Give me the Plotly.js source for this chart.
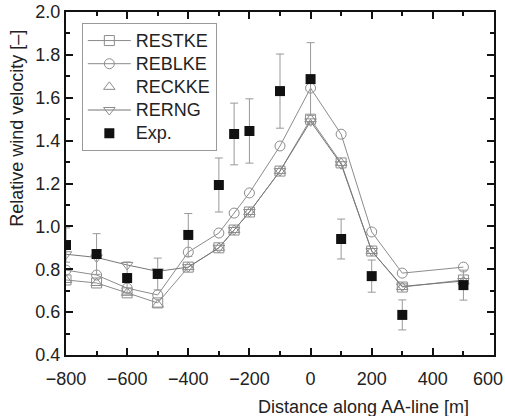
<!DOCTYPE html>
<html>
<head>
<meta charset="utf-8">
<script src="https://cdn.plot.ly/plotly-3.0.1.min.js"></script>
<style>html,body{margin:0;padding:0;background:#fff;}#chart{width:505px;height:416px;}</style>
</head>
<body>
<div id="chart"></div>
<script>
// Data
var xModel = [-800, -700, -600, -500, -400, -300, -250, -200, -100, 0, 100, 200, 300, 500];
var restke = [0.75, 0.736, 0.69, 0.643, 0.81, 0.90, 0.983, 1.067, 1.258, 1.50, 1.296, 0.885, 0.717, 0.75];
var reblke = [0.796, 0.773, 0.712, 0.68, 0.88, 0.969, 1.062, 1.156, 1.375, 1.645, 1.43, 0.974, 0.782, 0.81];
var reckke = [0.75, 0.736, 0.69, 0.635, 0.81, 0.90, 0.983, 1.067, 1.258, 1.50, 1.296, 0.885, 0.717, 0.745];
var rerng  = [0.87, 0.855, 0.82, 0.79, 0.81, 0.90, 0.983, 1.067, 1.258, 1.49, 1.29, 0.885, 0.72, 0.745];
var xExp   = [-800, -700, -600, -500, -400, -300, -250, -200, -100, 0, 100, 200, 300, 500];
var exp    = [0.913, 0.871, 0.759, 0.778, 0.96, 1.193, 1.431, 1.445, 1.631, 1.687, 0.941, 0.768, 0.587, 0.726];
var expErr = [0.08, 0.095, 0.075, 0.074, 0.10, 0.126, 0.144, 0.15, 0.173, 0.17, 0.093, 0.075, 0.07, 0.07];
var xTickVals = [-800, -600, -400, -200, 0, 200, 400, 600];
var xTickText = ["\u2212800", "\u2212600", "\u2212400", "\u2212200", "0", "200", "400", "600"];
var seriesNames = ["RESTKE", "REBLKE", "RECKKE", "RERNG", "Exp."];
var xTitle = "Distance along AA-line [m]";
var yTitle = "Relative wind velocity [–]";

var grey = "#8c8c8c";
function legName(s) { return '<span style="font-size:18px">' + s + '</span>'; }
function model(name, y, symbol, mode, lc) {
  return {
    x: xModel, y: y, name: legName(name), type: "scatter", mode: mode,
    line: {color: lc || grey, width: 1},
    marker: {symbol: symbol, size: 10, color: "rgba(255,255,255,0)", line: {color: grey, width: 1}}
  };
}
var traces = [
  model(seriesNames[0], restke, "square", "lines+markers"),
  model(seriesNames[1], reblke, "circle", "lines+markers"),
  model(seriesNames[2], reckke, "triangle-up", "markers"),
  model(seriesNames[3], rerng, "triangle-down", "lines+markers", "#777"),
  {
    x: xExp, y: exp, name: legName(seriesNames[4]), type: "scatter", mode: "markers",
    marker: {symbol: "square", size: 10, color: "#111"},
    error_y: {type: "data", array: expErr, visible: true, color: "#999", thickness: 1, width: 4}
  }
];

var font = {family: "Liberation Sans, Arial, sans-serif", size: 18, color: "#222"};
var layout = {
  width: 505, height: 416,
  margin: {l: 66, r: 11, t: 12, b: 61},
  paper_bgcolor: "#fff", plot_bgcolor: "#fff",
  font: font,
  showlegend: true,
  legend: {
    x: 0.037, y: 0.968, xanchor: "left", yanchor: "top",
    bgcolor: "#fff", bordercolor: "#999", borderwidth: 1,
    font: {family: font.family, size: 15.5, color: "#222"},
    tracegroupgap: 0, itemwidth: 43
  },
  xaxis: {
    range: [-800, 600], tickmode: "array", tickvals: xTickVals, ticktext: xTickText,
    showgrid: false, zeroline: false,
    showline: true, linecolor: "#111", linewidth: 2, mirror: "ticks",
    ticks: "inside", ticklen: 7, tickwidth: 2, tickcolor: "#111",
    minor: {ticks: "inside", dtick: 100, tick0: -800, ticklen: 4, tickwidth: 2, tickcolor: "#111"},
    tickfont: font, ticklabelstandoff: 6, ticklabeloverflow: "allow"
  },
  yaxis: {
    range: [0.4, 2.0], dtick: 0.2, tick0: 0.4, tickformat: ".1f",
    showgrid: false, zeroline: false,
    showline: true, linecolor: "#111", linewidth: 2, mirror: "ticks",
    ticks: "inside", ticklen: 7, tickwidth: 2, tickcolor: "#111",
    minor: {ticks: "inside", dtick: 0.1, ticklen: 4, tickwidth: 2, tickcolor: "#111"},
    tickfont: font
  },
  annotations: [
    {text: xTitle, xref: "paper", yref: "paper", x: 0.696, y: -0.152,
     xanchor: "center", yanchor: "middle", showarrow: false, font: font},
    {text: yTitle, xref: "paper", yref: "paper", x: -0.115, y: 0.662, textangle: -90,
     xanchor: "center", yanchor: "middle", showarrow: false, font: font}
  ]
};
Plotly.newPlot("chart", traces, layout, {staticPlot: true, displayModeBar: false}).then(function (gd) {
  // Nudge the last x tick label inward so it stays inside the page, as in the reference
  var labels = gd.querySelectorAll(".xtick text");
  if (labels.length) {
    var last = labels[labels.length - 1];
    last.setAttribute("text-anchor", "end");
    var x = parseFloat(last.getAttribute("x") || "0");
    last.setAttribute("x", String(x + 9));
  }
});
</script>
</body>
</html>
